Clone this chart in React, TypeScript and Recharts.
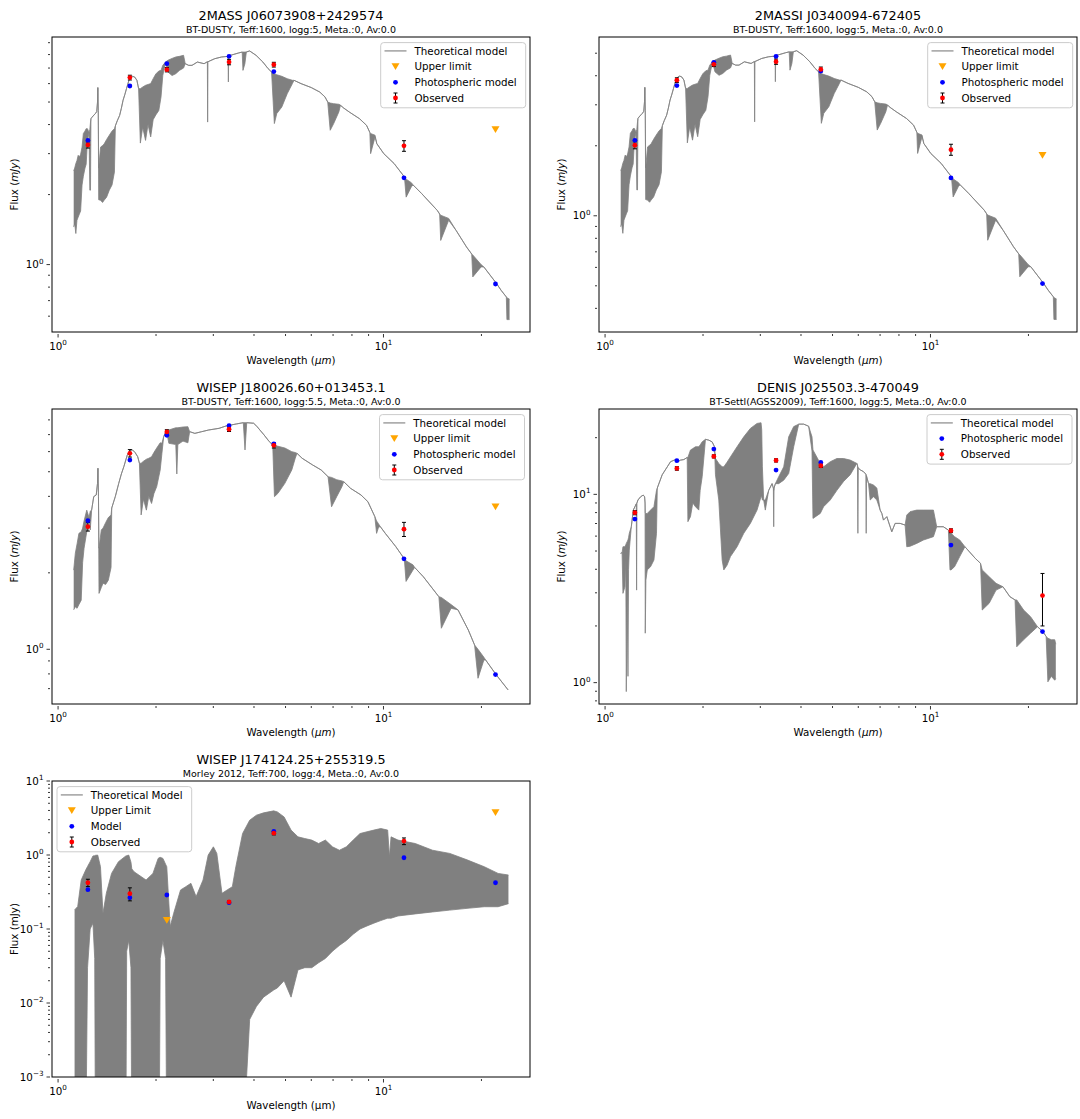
import React from 'react';
import { ComposedChart, Area, Scatter, XAxis, YAxis, ErrorBar } from 'recharts';

type Row = [number, number, number?];
type Pt = { w: number; f: number; e?: number };

const FONT = '"DejaVu Sans", Verdana, sans-serif';
const GRAY = '#808080';

// ---------- axes ----------
const X_DOMAIN: [number, number] = [0.958, 28.2];
const X_TICKS = [1, 2, 3, 4, 5, 6, 7, 8, 9, 10, 20];

// photometric bands (µm): J, H, Ks, W1, W2, W3, W4
const BANDS = [1.235, 1.662, 2.159, 3.353, 4.603, 11.56, 22.09];
const BANDS_NO_W4 = [1.235, 1.662, 2.159, 3.353, 4.603, 11.56];

// ---------- BT-DUSTY Teff 1600 logg 5 spectrum (mJy, as in 2MASS J0607) [wave, high, low] ----------
const dustySpectrum: Row[] = [
  [1.117, 2.53, 1.45], [1.125, 2.6, 1.5], [1.134, 2.72, 1.36], [1.143, 2.8, 1.55], [1.153, 2.95, 1.6],
  [1.163, 2.9, 1.65], [1.173, 2.98, 1.7], [1.185, 3.2, 2.2], [1.196, 3.66, 2.4], [1.21, 3.75, 2.6],
  [1.22, 3.84, 2.7], [1.231, 3.84, 3.4], [1.245, 3.7], [1.252, 3.8, 2.09], [1.258, 4.1, 2.09],
  [1.262, 4.24], [1.271, 4.3], [1.29, 4.4], [1.302, 4.46], [1.315, 4.55], [1.322, 5.0], [1.325, 5.77],
  [1.329, 4.6], [1.333, 2.6, 1.9], [1.351, 3.2, 1.89], [1.37, 3.25, 1.85], [1.385, 3.3, 1.89],
  [1.41, 3.45, 1.95], [1.437, 3.6, 2.09], [1.465, 3.75, 2.2], [1.49, 3.84, 2.5], [1.5, 3.95],
  [1.52, 4.15], [1.546, 4.38], [1.565, 4.7], [1.584, 5.09], [1.605, 5.4], [1.623, 5.71], [1.651, 6.2],
  [1.675, 6.4], [1.696, 6.45], [1.72, 6.4], [1.747, 6.2], [1.768, 5.71], [1.79, 5.71, 3.33],
  [1.82, 5.8, 3.9], [1.857, 5.9, 3.42], [1.89, 5.95, 4.0], [1.926, 6.0, 3.54], [1.96, 6.3, 4.2],
  [1.997, 6.6, 4.4], [2.04, 6.8, 4.6], [2.072, 6.84, 5.26], [2.098, 7.19, 6.5], [2.139, 7.43],
  [2.176, 7.56, 6.73], [2.24, 7.7, 6.5], [2.3, 7.81, 6.62], [2.36, 7.86, 6.84], [2.43, 7.94, 7.0],
  [2.459, 7.31], [2.52, 7.19], [2.58, 7.19], [2.68, 7.43], [2.81, 7.31], [2.876, 7.45],
  [2.882, 7.45, 4.1], [2.888, 7.45], [3.03, 7.68], [3.18, 7.81], [3.33, 7.86], [3.337, 7.86, 6.1],
  [3.345, 7.9], [3.59, 8.13], [3.68, 8.2], [3.7, 8.2, 6.84], [3.75, 8.2, 7.3], [3.79, 8.21],
  [3.88, 8.29], [4.06, 7.94], [4.26, 7.43], [4.42, 6.96], [4.53, 6.73], [4.62, 6.62, 4.04],
  [4.7, 6.55, 4.46], [4.87, 6.45, 4.76], [5.06, 6.3, 5.43], [5.25, 6.2, 6.0], [5.31, 6.2],
  [5.58, 6.0], [6.0, 5.77], [6.37, 5.52], [6.61, 5.26], [6.74, 5.0], [6.86, 4.95, 3.78],
  [7.03, 4.92, 4.04], [7.29, 4.89, 4.53], [7.38, 4.85], [7.47, 4.76], [7.85, 4.53], [8.44, 4.24],
  [8.87, 3.97], [9.08, 3.7], [9.13, 3.66, 3.0], [9.42, 3.6, 3.54], [9.54, 3.31], [10.02, 3.0],
  [10.78, 2.72], [11.6, 2.38], [11.74, 2.33, 1.95], [12.18, 2.25, 2.16], [12.33, 2.2], [13.1, 2.02],
  [14.63, 1.71], [14.88, 1.65], [14.99, 1.63, 1.27], [15.86, 1.58, 1.55], [16.73, 1.4], [18.0, 1.19],
  [18.67, 1.11], [18.81, 1.1, 0.885], [19.95, 1.0, 0.977], [20.34, 0.977], [22.27, 0.828],
  [22.99, 0.775], [23.85, 0.726], [23.95, 0.72, 0.58], [24.4, 0.71, 0.58],
];

// ---------- Panel 1: 2MASS J06073908+2429574 ----------
const p1ObsFlux = [3.27, 6.37, 6.89, 7.43, 7.24, 3.24];
const p1ObsErr = [0.1, 0.15, 0.15, 0.2, 0.17, 0.17];
const p1ModelFlux = [3.42, 5.86, 7.31, 7.86, 6.76, 2.36, 0.825];
const p1LimWave = [22.09];
const p1LimFlux = [3.81];
const p1YDomain: [number, number] = [0.513, 9.52];
const p1YTicks = [0.6, 0.7, 0.8, 0.9, 1, 2, 3, 4, 5, 6, 7, 8, 9];

// ---------- Panel 2: 2MASSI J0340094-672405 ----------
const p2ModelScale = 0.618; // same BT-DUSTY model, scaled to this object
const p2ObsFlux = [2.01, 3.83, 4.48, 4.6, 4.26, 1.925];
const p2ObsErr = [0.07, 0.09, 0.1, 0.12, 0.1, 0.105];
const p2ModelFlux = [2.11, 3.63, 4.57, 4.85, 4.19, 1.455, 0.511];
const p2LimWave = [22.09];
const p2LimFlux = [1.82];
const p2YDomain: [number, number] = [0.3165, 5.87];
const p2YTicks = [0.4, 0.5, 0.6, 0.7, 0.8, 0.9, 1, 2, 3, 4, 5];

// ---------- Panel 3: WISEP J180026.60+013453.1 ----------
const p3Spectrum: Row[] = [
  [1.117, 2.05, 1.43], [1.13, 2.39, 1.47], [1.144, 2.6, 1.45], [1.159, 2.86, 1.5], [1.178, 2.9, 1.56],
  [1.19, 3.0, 2.2], [1.202, 3.2, 2.5], [1.225, 3.53, 2.9], [1.245, 3.3], [1.256, 3.5, 2.95],
  [1.268, 3.53], [1.287, 3.99], [1.31, 4.05], [1.322, 4.5], [1.326, 5.16], [1.331, 4.0],
  [1.336, 2.5, 1.66], [1.358, 2.95, 1.75], [1.375, 3.0, 1.82], [1.4, 3.15, 1.8], [1.427, 3.3, 1.87],
  [1.455, 3.38, 2.1], [1.462, 3.6], [1.5, 4.0], [1.536, 4.5], [1.565, 4.9], [1.593, 5.24],
  [1.632, 5.82], [1.665, 6.09], [1.694, 6.09], [1.725, 5.95], [1.757, 5.73], [1.778, 5.4],
  [1.8, 5.4, 3.38], [1.83, 5.5, 3.9], [1.868, 5.6, 3.53], [1.9, 5.65, 4.0], [1.938, 5.73, 3.75],
  [1.97, 5.95, 4.1], [2.01, 6.2, 4.37], [2.06, 6.5, 5.08], [2.085, 6.47, 5.9], [2.111, 6.87],
  [2.153, 7.26], [2.19, 7.3, 6.47], [2.3, 7.45, 6.4], [2.317, 7.45, 4.9], [2.334, 7.45, 6.4],
  [2.42, 7.5, 6.6], [2.506, 7.52, 6.5], [2.537, 7.19], [2.632, 7.08], [2.764, 7.19], [2.903, 7.3],
  [3.124, 7.41], [3.281, 7.57], [3.531, 7.71], [3.709, 7.8], [3.754, 7.8, 6.09], [3.8, 7.8],
  [3.991, 7.76], [4.09, 7.52], [4.295, 6.98], [4.457, 6.57], [4.567, 6.37], [4.623, 6.35, 3.99],
  [4.739, 6.3, 4.11], [4.976, 6.2, 4.5], [5.226, 6.0, 5.08], [5.356, 5.95, 5.65], [5.422, 5.91],
  [5.623, 5.65], [6.052, 5.32], [6.435, 5.08], [6.756, 4.78], [6.925, 4.75, 3.64], [7.183, 4.65, 3.99],
  [7.455, 4.6, 4.37], [7.547, 4.57], [7.925, 4.3], [8.53, 4.05], [8.957, 3.81], [9.406, 3.33],
  [9.524, 3.2, 2.86], [9.64, 3.13, 3.0], [9.759, 3.05], [10.13, 2.86], [10.9, 2.54], [11.59, 2.27],
  [11.73, 2.23, 1.85], [12.32, 2.15, 2.05], [12.47, 2.1], [13.26, 1.93], [14.8, 1.61],
  [15.06, 1.6, 1.21], [16.13, 1.5, 1.45], [16.94, 1.43], [18.23, 1.19], [19.05, 1.04],
  [19.52, 1.0, 0.769], [20.35, 0.93, 0.908], [20.6, 0.908], [22.18, 0.795], [24.15, 0.692],
];
const p3ObsFlux = [3.04, 5.91, 7.17, 7.35, 6.35, 2.97];
const p3ObsErr = [0.12, 0.2, 0.15, 0.15, 0.15, 0.19];
const p3ModelFlux = [3.21, 5.56, 6.96, 7.59, 6.43, 2.27, 0.795];
const p3LimWave = [22.09];
const p3LimFlux = [3.64];
const p3YDomain: [number, number] = [0.609, 8.83];
const p3YTicks = [0.7, 0.8, 0.9, 1, 2, 3, 4, 5, 6, 7, 8];

// ---------- Panel 4: DENIS J025503.3-470049 (BT-Settl) ----------
const p4Spectrum: Row[] = [
  [1.116, 4.86], [1.128, 4.9], [1.135, 5.27, 2.98], [1.151, 5.27, 3.23], [1.158, 5.4, 4.5],
  [1.162, 5.49, 0.896], [1.169, 5.6, 3.0], [1.176, 5.72, 1.08], [1.181, 5.9, 4.0], [1.187, 6.21, 5.06],
  [1.204, 6.73], [1.221, 8.25], [1.235, 8.6], [1.247, 8.9], [1.25, 8.95, 3.1], [1.253, 9.0],
  [1.262, 9.33], [1.286, 9.71], [1.31, 9.91], [1.323, 9.71], [1.327, 9.0], [1.329, 8.0, 1.83],
  [1.335, 7.9, 3.5], [1.348, 7.92, 3.97], [1.38, 8.25, 4.13], [1.413, 8.6, 4.48], [1.439, 10.5, 6.21],
  [1.447, 10.8], [1.498, 12.7], [1.553, 14.0], [1.589, 14.9], [1.646, 15.3], [1.674, 14.9],
  [1.706, 15.2], [1.746, 15.3], [1.788, 15.7], [1.797, 15.7, 7.16], [1.83, 17.2, 7.61],
  [1.86, 17.5, 9.0], [1.896, 17.9, 8.6], [1.941, 17.9, 8.25], [1.96, 18.3, 10.5], [1.988, 19.0, 12.4],
  [2.035, 19.6], [2.084, 19.4], [2.133, 19.0], [2.169, 17.9], [2.184, 15.5, 12.7], [2.236, 14.6, 9.33],
  [2.29, 14.0, 4.48], [2.317, 14.0, 3.97], [2.37, 14.8, 4.2], [2.428, 15.8, 4.67], [2.545, 17.9, 5.27],
  [2.668, 20.2, 6.21], [2.796, 22.4, 7.01], [2.931, 23.8, 8.25], [3.015, 24.0, 9.71], [3.03, 22.0, 9.7],
  [3.044, 14.0, 9.33], [3.072, 9.33], [3.108, 9.33, 8.25], [3.183, 10.5], [3.26, 11.4], [3.29, 10.8],
  [3.298, 10.5, 6.73], [3.306, 10.8], [3.337, 11.4], [3.416, 12.4, 11.4], [3.54, 14.0, 11.9],
  [3.667, 20.2, 12.9], [3.799, 22.9, 17.9], [3.936, 23.6], [4.077, 23.6], [4.223, 23.0],
  [4.324, 20.2, 17.0], [4.354, 17.2, 7.45], [4.585, 14.6, 7.92], [4.694, 14.0, 8.6], [4.92, 14.9, 9.33],
  [5.157, 15.5, 10.5], [5.406, 15.5, 11.7], [5.667, 15.2, 12.7], [5.94, 14.6], [5.965, 14.3],
  [5.983, 14.0, 6.21], [6.0, 13.8], [6.081, 13.5], [6.226, 13.2], [6.33, 12.8], [6.345, 12.7, 6.21],
  [6.36, 12.5], [6.451, 11.4], [6.527, 11.4, 9.33], [6.682, 11.2, 9.71], [6.842, 10.8, 9.33],
  [7.004, 8.25], [7.088, 7.92], [7.171, 7.3], [7.342, 7.61], [7.605, 6.33], [7.786, 7.01],
  [8.066, 7.01], [8.357, 6.87], [8.455, 7.76, 5.27], [8.656, 8.09, 5.3], [9.074, 8.25, 5.49],
  [9.513, 8.25, 5.72], [10.21, 8.25, 5.96], [10.45, 6.73], [10.95, 6.73], [11.35, 6.46],
  [11.48, 6.21, 3.97], [11.57, 6.21, 3.97], [11.86, 5.96, 4.13], [12.3, 5.72, 4.67], [12.76, 5.27],
  [13.73, 4.57], [14.25, 4.3], [14.42, 3.97, 2.43], [15.15, 3.65, 2.64], [15.9, 3.37, 3.1],
  [16.7, 3.23], [17.54, 2.86], [18.19, 2.75], [18.41, 2.75, 1.55], [19.33, 2.43, 1.69],
  [20.3, 2.24, 1.83], [21.33, 1.98], [22.12, 1.87], [22.67, 1.76], [22.95, 1.72, 1.01],
  [23.51, 1.69, 1.08], [24.09, 1.69, 1.03], [24.27, 1.6, 1.05],
];
const p4ObsFlux = [7.99, 13.73, 15.91, 15.15, 14.19, 6.41, 2.9];
const p4ObsErr = [0.2, 0.3, 0.3, 0.3, 0.3, 0.15, 0.9];
const p4ModelFlux = [7.39, 15.09, 17.4, 13.46, 14.78, 5.38, 1.866];
const p4YDomain: [number, number] = [0.77, 28.4];
const p4YTicks = [0.8, 0.9, 1, 2, 3, 4, 5, 6, 7, 8, 9, 10, 20];

// ---------- Panel 5: WISEP J174124.25+255319.5 (Morley 2012) ----------
const p5Spectrum: Row[] = [
  [1.124, 0.181, 0.0001], [1.149, 0.201, 0.0001], [1.178, 0.459, 0.0001], [1.216, 0.626, 0.0001],
  [1.232, 0.7, 0.03], [1.255, 0.811, 0.1], [1.28, 0.97, 0.12], [1.296, 0.98, 0.04], [1.303, 0.99, 0.0001],
  [1.324, 0.997, 0.0001], [1.35, 0.694, 0.0001],
  [1.374, 0.163, 0.0001], [1.407, 0.303, 0.0001], [1.46, 0.564, 0.0001], [1.533, 0.811, 0.0001],
  [1.615, 0.97, 0.0001], [1.625, 0.98, 0.05], [1.649, 0.997, 0.07], [1.675, 0.8, 0.03], [1.685, 0.65, 0.0001],
  [1.712, 0.594, 0.0001], [1.864, 0.459, 0.0001],
  [1.957, 0.564, 0.0001], [2.03, 0.899, 0.0001], [2.045, 0.92, 0.0001], [2.06, 0.93, 0.04],
  [2.1, 0.9, 0.07], [2.14, 0.75, 0.04], [2.158, 0.694, 0.0001],
  [2.211, 0.108, 0.0001], [2.266, 0.163, 0.0001], [2.379, 0.337, 0.0001], [2.468, 0.373, 0.0001],
  [2.56, 0.414, 0.0001], [2.656, 0.274, 0.0001], [2.789, 0.459, 0.0001], [2.893, 0.997, 0.0001],
  [3.001, 1.29, 0.0001], [3.075, 1.05, 0.0001], [3.189, 0.303, 0.0001], [3.308, 0.337, 0.0001],
  [3.432, 0.373, 0.0001], [3.518, 0.694, 0.0001], [3.69, 1.95, 0.0001], [3.88, 2.95, 0.006],
  [4.07, 3.45, 0.009], [4.28, 3.71, 0.012], [4.6, 3.95, 0.015], [4.72, 3.82, 0.016], [4.95, 3.27, 0.02],
  [5.2, 2.17, 0.012], [5.46, 1.76, 0.028], [5.73, 1.67, 0.03], [6.02, 1.59, 0.03], [6.32, 1.43, 0.035],
  [6.63, 1.59, 0.04], [6.97, 1.29, 0.05], [7.32, 1.16, 0.06], [7.69, 1.29, 0.07], [8.07, 1.59, 0.085],
  [8.47, 1.95, 0.1], [8.9, 2.06, 0.11], [9.34, 2.17, 0.12], [9.81, 2.28, 0.13], [10.3, 2.17, 0.14],
  [10.43, 0.947, 0.14], [10.55, 1.76, 0.14], [11.08, 1.59, 0.15], [12.52, 1.43, 0.16],
  [14.15, 1.16, 0.17], [15.99, 1.05, 0.18], [18.06, 0.86, 0.19], [20.41, 0.694, 0.2],
  [22.5, 0.564, 0.2], [24.21, 0.536, 0.22],
];
const p5ObsWave = [1.235, 1.662, 3.353, 4.603, 11.56];
const p5ObsFlux = [0.422, 0.3, 0.232, 1.97, 1.54];
const p5ObsErr = [0.048, 0.06, 0.01, 0.1, 0.16];
const p5ModelFlux = [0.34, 0.265, 0.288, 0.227, 2.08, 0.918, 0.422];
const p5LimWave = [2.159, 22.09];
const p5LimFlux = [0.131, 3.75];
const p5YDomain: [number, number] = [0.001, 10];
const p5YTicks = [
  0.001, 0.002, 0.003, 0.004, 0.005, 0.006, 0.007, 0.008, 0.009,
  0.01, 0.02, 0.03, 0.04, 0.05, 0.06, 0.07, 0.08, 0.09,
  0.1, 0.2, 0.3, 0.4, 0.5, 0.6, 0.7, 0.8, 0.9,
  1, 2, 3, 4, 5, 6, 7, 8, 9, 10,
];

// ---------- helpers ----------
function toSpec(rows: Row[], scale = 1) {
  return rows.map(([w, hi, lo]) => ({ w, hi: hi * scale, lo: (lo ?? hi) * scale }));
}
function pts(w: number[], f: number[], e?: number[]): Pt[] {
  return w.map((x, i) => ({ w: x, f: f[i], e: e ? e[i] : undefined }));
}
function isMajor(v: number) {
  const l = Math.log10(v);
  return Math.abs(l - Math.round(l)) < 1e-6;
}
function expLabel(v: number) {
  const n = Math.round(Math.log10(v));
  return n < 0 ? '\u2212' + Math.abs(n) : String(n);
}

function XTick(props: any) {
  const { x, y, payload } = props;
  const major = isMajor(payload.value);
  return (
    <g>
      <line x1={x} x2={x} y1={y} y2={y + (major ? 3.5 : 2)} stroke="#000" strokeWidth={0.8} />
      {major && (
        <text x={x} y={y + 16} textAnchor="middle" fontFamily={FONT} fontSize={10.3} fill="#000">
          10<tspan dy={-4.6} fontSize={7.2}>{expLabel(payload.value)}</tspan>
        </text>
      )}
    </g>
  );
}
function YTick(props: any) {
  const { x, y, payload } = props;
  const major = isMajor(payload.value);
  return (
    <g>
      <line x1={x} x2={x - (major ? 3.5 : 2)} y1={y} y2={y} stroke="#000" strokeWidth={0.8} />
      {major && (
        <text x={x - 6.5} y={y + 3.7} textAnchor="end" fontFamily={FONT} fontSize={10.3} fill="#000">
          10<tspan dy={-4.6} fontSize={7.2}>{expLabel(payload.value)}</tspan>
        </text>
      )}
    </g>
  );
}

const blueDot = (p: any) => <circle cx={p.cx} cy={p.cy} r={2.4} fill="#0000ff" />;
const redDot = (p: any) => <circle cx={p.cx} cy={p.cy} r={2.4} fill="#ff0000" />;
const triDown = (p: any) => (
  <polygon points={`${p.cx - 4},${p.cy - 3.3} ${p.cx + 4},${p.cy - 3.3} ${p.cx},${p.cy + 3.5}`} fill="#ffa500" />
);

type LegendKind = 'line' | 'tri' | 'dot' | 'err';
interface PanelCfg {
  left: number;
  top: number;
  plotH: number;
  title: string;
  subtitle: string;
  spec: { w: number; hi: number; lo: number }[];
  yDomain: [number, number];
  yTicks: number[];
  obs: Pt[];
  model: Pt[];
  limits: Pt[];
  legend: { label: string; kind: LegendKind }[];
  legendX: number;
  legendW: number;
  upright?: boolean;
}

function LegendIcon({ kind, cx, cy }: { kind: LegendKind; cx: number; cy: number }) {
  if (kind === 'line') return <line x1={cx - 11} x2={cx + 11} y1={cy} y2={cy} stroke="#9a9a9a" strokeWidth={1.4} />;
  if (kind === 'tri')
    return <polygon points={`${cx - 4},${cy - 3.3} ${cx + 4},${cy - 3.3} ${cx},${cy + 3.5}`} fill="#ffa500" />;
  if (kind === 'dot') return <circle cx={cx} cy={cy} r={2.4} fill="#0000ff" />;
  return (
    <g>
      <line x1={cx} x2={cx} y1={cy - 5} y2={cy + 5} stroke="#000" strokeWidth={1} />
      <line x1={cx - 2} x2={cx + 2} y1={cy - 5} y2={cy - 5} stroke="#000" strokeWidth={1} />
      <line x1={cx - 2} x2={cx + 2} y1={cy + 5} y2={cy + 5} stroke="#000" strokeWidth={1} />
      <circle cx={cx} cy={cy} r={2.4} fill="#ff0000" />
    </g>
  );
}

const PL = 52;
const PT = 37;
const PW = 478;

function Panel({ cfg }: { cfg: PanelCfg }) {
  const ph = cfg.plotH;
  const H = PT + ph + 35;
  const cx = PL + PW / 2;
  const legH = 16.6 + (cfg.legend.length - 1) * 15.7 + 1.5;
  const legY = PT + 5.6;
  return (
    <div style={{ position: 'absolute', left: cfg.left, top: cfg.top, width: 540, height: H }}>
      <ComposedChart width={540} height={H} data={cfg.spec} margin={{ top: PT, right: 10, bottom: 0, left: 0 }}>
        <XAxis
          dataKey="w"
          type="number"
          scale="log"
          domain={X_DOMAIN}
          allowDataOverflow
          ticks={X_TICKS}
          interval={0}
          tick={(p: any) => <XTick {...p} />}
          tickLine={false}
          axisLine={false}
          tickSize={0}
          height={35}
        />
        <YAxis
          type="number"
          scale="log"
          domain={cfg.yDomain}
          allowDataOverflow
          ticks={cfg.yTicks}
          interval={0}
          tick={(p: any) => <YTick {...p} />}
          tickLine={false}
          axisLine={false}
          tickSize={0}
          width={PL}
        />
        <Area
          type="linear"
          dataKey={(d: any) => [d.lo, d.hi]}
          stroke={GRAY}
          strokeWidth={0.8}
          fill={GRAY}
          fillOpacity={1}
          dot={false}
          activeDot={false}
          isAnimationActive={false}
        />
        {cfg.limits.length > 0 && (
          <Scatter data={cfg.limits} dataKey="f" shape={triDown} isAnimationActive={false} />
        )}
        <Scatter data={cfg.model} dataKey="f" shape={blueDot} isAnimationActive={false} />
        <Scatter data={cfg.obs} dataKey="f" shape={redDot} isAnimationActive={false}>
          <ErrorBar dataKey="e" direction="y" width={2} stroke="#000" strokeWidth={1} />
        </Scatter>
      </ComposedChart>
      <svg
        width={540}
        height={H}
        style={{ position: 'absolute', left: 0, top: 0, pointerEvents: 'none' }}
        fontFamily={FONT}
      >
        <rect x={PL} y={PT} width={PW} height={ph} fill="none" stroke="#000" strokeWidth={1} />
        <text x={cx} y={PT - 17.2} textAnchor="middle" fontSize={12.8} fill="#000">
          {cfg.title}
        </text>
        <text x={cx} y={PT - 4.3} textAnchor="middle" fontSize={9.5} fill="#000">
          {cfg.subtitle}
        </text>
        <text x={cx} y={PT + ph + 31.5} textAnchor="middle" fontSize={10.3} fill="#000">
          {cfg.upright ? (
            'Wavelength (\u00b5m)'
          ) : (
            <>
              Wavelength (<tspan fontStyle="italic">{'\u00b5m'}</tspan>)
            </>
          )}
        </text>
        <text
          transform={`translate(${PL - 34.5},${PT + ph / 2}) rotate(-90)`}
          textAnchor="middle"
          fontSize={10.3}
          fill="#000"
        >
          {cfg.upright ? (
            'Flux (mJy)'
          ) : (
            <>
              Flux (<tspan fontStyle="italic">mJy</tspan>)
            </>
          )}
        </text>
        <rect
          x={cfg.legendX}
          y={legY}
          width={cfg.legendW}
          height={legH}
          rx={3}
          fill="#ffffff"
          fillOpacity={0.8}
          stroke="#cccccc"
          strokeWidth={1}
        />
        {cfg.legend.map((it, i) => {
          const cy = legY + 8.3 + i * 15.7;
          return (
            <g key={i}>
              <LegendIcon kind={it.kind} cx={cfg.legendX + 14.8} cy={cy} />
              <text x={cfg.legendX + 33.8} y={cy + 3.7} fontSize={10.3} fill="#000">
                {it.label}
              </text>
            </g>
          );
        })}
      </svg>
    </div>
  );
}

const legendFull: { label: string; kind: LegendKind }[] = [
  { label: 'Theoretical model', kind: 'line' },
  { label: 'Upper limit', kind: 'tri' },
  { label: 'Photospheric model', kind: 'dot' },
  { label: 'Observed', kind: 'err' },
];

const panels: PanelCfg[] = [
  {
    left: 0,
    top: 0,
    plotH: 295,
    title: '2MASS J06073908+2429574',
    subtitle: 'BT-DUSTY, Teff:1600, logg:5, Meta.:0, Av:0.0',
    spec: toSpec(dustySpectrum),
    yDomain: p1YDomain,
    yTicks: p1YTicks,
    obs: pts(BANDS_NO_W4, p1ObsFlux, p1ObsErr),
    model: pts(BANDS, p1ModelFlux),
    limits: pts(p1LimWave, p1LimFlux),
    legend: legendFull,
    legendX: 380.7,
    legendW: 145,
  },
  {
    left: 547,
    top: 0,
    plotH: 295,
    title: '2MASSI J0340094-672405',
    subtitle: 'BT-DUSTY, Teff:1600, logg:5, Meta.:0, Av:0.0',
    spec: toSpec(dustySpectrum, p2ModelScale),
    yDomain: p2YDomain,
    yTicks: p2YTicks,
    obs: pts(BANDS_NO_W4, p2ObsFlux, p2ObsErr),
    model: pts(BANDS, p2ModelFlux),
    limits: pts(p2LimWave, p2LimFlux),
    legend: legendFull,
    legendX: 380.7,
    legendW: 145,
  },
  {
    left: 0,
    top: 372,
    plotH: 295,
    title: 'WISEP J180026.60+013453.1',
    subtitle: 'BT-DUSTY, Teff:1600, logg:5.5, Meta.:0, Av:0.0',
    spec: toSpec(p3Spectrum),
    yDomain: p3YDomain,
    yTicks: p3YTicks,
    obs: pts(BANDS_NO_W4, p3ObsFlux, p3ObsErr),
    model: pts(BANDS, p3ModelFlux),
    limits: pts(p3LimWave, p3LimFlux),
    legend: legendFull,
    legendX: 379.5,
    legendW: 145,
  },
  {
    left: 547,
    top: 372,
    plotH: 295,
    title: 'DENIS J025503.3-470049',
    subtitle: 'BT-Settl(AGSS2009), Teff:1600, logg:5, Meta.:0, Av:0.0',
    spec: toSpec(p4Spectrum),
    yDomain: p4YDomain,
    yTicks: p4YTicks,
    obs: pts(BANDS, p4ObsFlux, p4ObsErr),
    model: pts(BANDS, p4ModelFlux),
    limits: [],
    legend: [
      { label: 'Theoretical model', kind: 'line' },
      { label: 'Photospheric model', kind: 'dot' },
      { label: 'Observed', kind: 'err' },
    ],
    legendX: 380,
    legendW: 145,
  },
  {
    left: 0,
    top: 744,
    plotH: 296,
    title: 'WISEP J174124.25+255319.5',
    subtitle: 'Morley 2012, Teff:700, logg:4, Meta.:0, Av:0.0',
    spec: toSpec(p5Spectrum),
    yDomain: p5YDomain,
    yTicks: p5YTicks,
    obs: pts(p5ObsWave, p5ObsFlux, p5ObsErr),
    model: pts(BANDS, p5ModelFlux),
    limits: pts(p5LimWave, p5LimFlux),
    legend: [
      { label: 'Theoretical Model', kind: 'line' },
      { label: 'Upper Limit', kind: 'tri' },
      { label: 'Model', kind: 'dot' },
      { label: 'Observed', kind: 'err' },
    ],
    legendX: 57,
    legendW: 134.7,
    upright: true,
  },
];

export default function App() {
  return (
    <div style={{ position: 'absolute', left: 0, top: 0, width: 1080, height: 1119, background: '#fff' }}>
      {panels.map((cfg, i) => (
        <Panel key={i} cfg={cfg} />
      ))}
    </div>
  );
}
